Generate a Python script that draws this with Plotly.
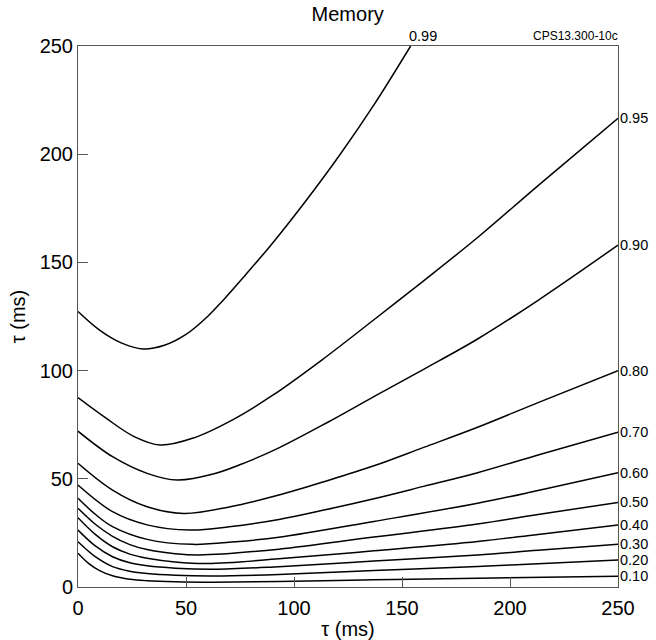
import plotly.graph_objects as go

# ---- data (x = tau1 in ms, y = tau2 in ms) ----
c010_x = [0, 5, 10, 16, 24, 32, 45, 63, 93, 137, 185, 250]
c010_y = [15.6, 10.8, 7.6, 5.2, 3.6, 2.9, 2.4, 2.2, 2.5, 3.3, 4.0, 5.0]

c020_x = [0, 8, 16, 24, 32, 45, 63, 93, 137, 185, 213, 250]
c020_y = [20.9, 14.0, 9.4, 7.3, 6.2, 5.4, 5.1, 5.8, 7.6, 9.5, 10.8, 12.5]

c030_x = [0, 8, 16, 24, 32, 45, 63, 93, 137, 185, 213, 250]
c030_y = [26.3, 19.0, 14.0, 11.2, 9.8, 8.7, 8.2, 9.4, 12.0, 14.8, 17.0, 19.7]

c040_x = [0, 8, 16, 24, 32, 45, 60, 93, 137, 185, 213, 250]
c040_y = [32.0, 24.3, 18.6, 15.2, 13.3, 11.6, 10.9, 13.0, 16.7, 21.0, 24.3, 28.7]

c050_x = [0, 8, 16, 24, 32, 45, 56, 93, 137, 185, 213, 250]
c050_y = [36.4, 29.0, 23.4, 19.6, 17.3, 15.4, 14.8, 17.5, 23.1, 29.1, 33.5, 39.1]

c060_x = [0, 8, 16, 32, 53, 73, 93, 137, 185, 213, 250]
c060_y = [41.0, 33.6, 27.9, 22.0, 19.7, 20.9, 23.0, 30.3, 38.7, 44.6, 52.8]

c070_x = [0, 16, 32, 52, 70, 93, 115, 137, 160, 185, 213, 250]
c070_y = [47.1, 34.8, 28.7, 26.3, 27.8, 31.2, 35.8, 40.8, 46.5, 52.8, 61.0, 71.5]

c080_x = [0, 16, 32, 49, 70, 93, 115, 137, 160, 185, 213, 250]
c080_y = [57.2, 44.8, 37.1, 34.0, 37.0, 42.5, 49.0, 56.0, 64.5, 73.8, 85.2, 100.0]

c090_x = [0, 16, 32, 46, 63, 78, 93, 115, 137, 160, 185, 213, 250]
c090_y = [72.0, 60.2, 52.5, 49.4, 52.3, 57.7, 64.3, 75.8, 88.0, 100.6, 114.6, 132.5, 158.0]

c095_x = [0, 13, 26, 38, 53, 72, 90, 113, 137, 160, 185, 213, 250]
c095_y = [87.5, 78.0, 69.5, 65.6, 68.7, 77.5, 88.5, 105.0, 123.5, 141.5, 161.5, 185.5, 216.6]

c099_x = [0, 10, 20, 30, 40, 50, 60, 67, 78, 89, 105, 121, 137, 154]
c099_y = [127.3, 118.7, 112.8, 110.0, 111.7, 116.7, 125.0, 132.3, 144.8, 157.6, 177.8, 199.4, 222.8, 250.0]

levels = ["0.10", "0.20", "0.30", "0.40", "0.50", "0.60", "0.70", "0.80", "0.90", "0.95", "0.99"]
xs = [c010_x, c020_x, c030_x, c040_x, c050_x, c060_x, c070_x, c080_x, c090_x, c095_x, c099_x]
ys = [c010_y, c020_y, c030_y, c040_y, c050_y, c060_y, c070_y, c080_y, c090_y, c095_y, c099_y]

tick_vals = [0, 50, 100, 150, 200, 250]
tick_text = ["0", "50", "100", "150", "200", "250"]

FONT = "Liberation Sans, Arial, Helvetica, sans-serif"

fig = go.Figure()
for lab, x, y in zip(levels, xs, ys):
    fig.add_trace(go.Scatter(x=x, y=y, mode="lines", name=lab, showlegend=False,
                             line=dict(color="black", width=1.5, shape="spline", smoothing=1.0)))

annotations = []
for lab, x, y in zip(levels, xs, ys):
    if lab == "0.99":
        annotations.append(dict(x=x[-1], y=y[-1], xref="x", yref="y", text=lab, showarrow=False,
                                xanchor="left", yanchor="bottom", xshift=-4, yshift=0,
                                font=dict(family=FONT, size=14.5, color="black")))
    else:
        annotations.append(dict(x=x[-1], y=y[-1], xref="x", yref="y", text=lab, showarrow=False,
                                xanchor="left", yanchor="middle", xshift=0,
                                font=dict(family=FONT, size=14.5, color="black")))

annotations.append(dict(x=1, y=1, xref="paper", yref="paper", text="CPS13.300-10c", showarrow=False,
                        xanchor="right", yanchor="bottom", yshift=1, xshift=2,
                        font=dict(family=FONT, size=12, color="black")))

axis_common = dict(range=[0, 250], tickvals=tick_vals, ticktext=tick_text, ticks="inside", ticklen=10,
                   tickcolor="#555", tickwidth=1, showline=True, linecolor="#555", linewidth=1,
                   mirror=True, showgrid=False, zeroline=False, automargin=False,
                   tickfont=dict(family=FONT, size=20, color="black"))

fig.update_layout(
    width=656, height=640,
    margin=dict(l=78, r=38, t=46, b=53),
    paper_bgcolor="white", plot_bgcolor="white",
    title=dict(text="Memory", x=0.53, xanchor="center", y=1 - 14 / 640, yanchor="middle",
               font=dict(family=FONT, size=20, color="black")),
    xaxis=dict(**axis_common, ticklabelstandoff=3,
               title=dict(text="τ (ms)", standoff=18,
                          font=dict(family=FONT, size=20, color="black"))),
    yaxis=dict(**axis_common, title=dict(text="τ (ms)", standoff=8,
                                         font=dict(family=FONT, size=20, color="black"))),
    annotations=annotations,
)

fig.write_html("out.html")
